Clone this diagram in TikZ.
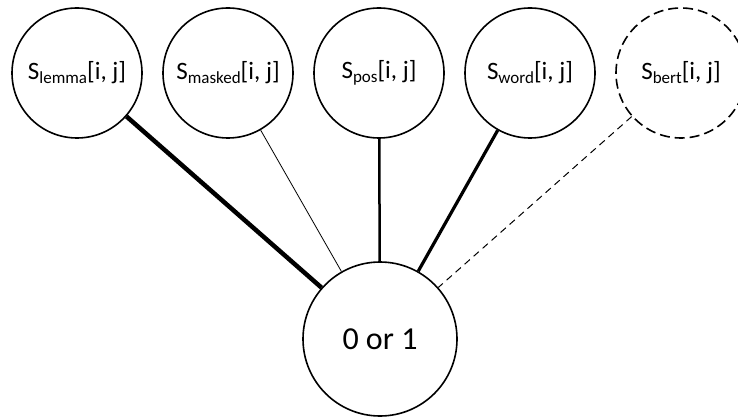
\documentclass[tikz,border=0pt]{standalone}
\usepackage{fontspec}
\setmainfont{Carlito}
\tikzset{
  topc/.style={circle, draw, line width=1.6pt, minimum size=130pt, inner sep=0pt, font=\fontsize{25}{28}\selectfont},
  botc/.style={circle, draw, line width=1.6pt, minimum size=154pt, inner sep=0pt, font=\fontsize{32}{36}\selectfont},
  link/.style={draw, line cap=butt}
}
\newcommand{\sub}[1]{\raisebox{-0.3ex}{\fontsize{17}{19}\selectfont #1}}
\begin{document}
\begin{tikzpicture}[x=1pt,y=1pt]
\useasboundingbox (0,0) rectangle (738,418);
\node[topc] (lemma) at (77,345) {S\sub{lemma}[i, j]};
\node[topc] (masked) at (228,345) {S\sub{masked}[i, j]};
\node[topc] (pos) at (379,345) {S\sub{pos}[i, j]};
\node[topc] (word) at (530,345) {S\sub{word}[i, j]};
\node[topc, dash pattern=on 10pt off 5pt] (bert) at (681,345) {S\sub{bert}[i, j]};
\node[botc] (out) at (380,79) {0 or 1};
\draw[link, line width=4.5pt] (lemma) -- (out);
\draw[link, line width=0.8pt] (masked) -- (out);
\draw[link, line width=2.5pt] (pos) -- (out);
\draw[link, line width=3.2pt] (word) -- (out);
\draw[link, line width=1pt, dash pattern=on 7pt off 5pt] (bert) -- (out);
\end{tikzpicture}
\end{document}
